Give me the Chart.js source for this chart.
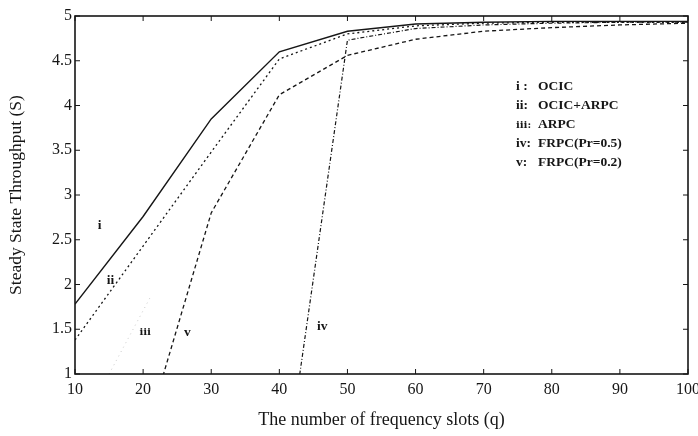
<!DOCTYPE html>
<html>
<head>
<meta charset="utf-8">
<script src="https://cdn.jsdelivr.net/npm/chart.js@4.4.1/dist/chart.umd.min.js"></script>
<style>
  html, body { margin: 0; padding: 0; background: #fff; }
  #wrap { width: 698px; height: 436px; }
</style>
</head>
<body>
<div id="wrap"><canvas id="throughputChart"></canvas></div>
<script>
// frequency slots q
const slots = [10, 20, 30, 40, 50, 60, 70, 80, 90, 100]

// steady state throughput S
const ocic      = [1.78, 2.76, 3.85, 4.60, 4.83, 4.91, 4.93, 4.94, 4.94, 4.94]
const ocicArpc  = [1.38, 2.43, 3.48, 4.52, 4.80, 4.89, 4.92, 4.93, 4.93, 4.93]
const frpc05    = [null, null, null, -0.6, 4.73, 4.86, 4.90, 4.92, 4.93, 4.93]
const frpc02    = [null, 0.23, 2.80, 4.12, 4.56, 4.74, 4.83, 4.87, 4.90, 4.92]
// ARPC curve is almost faded out in the copy, only a short piece shows
const arpcSlots = [15, 21]
const arpc      = [1.0, 1.85]

const yTicks = [1, 1.5, 2, 2.5, 3, 3.5, 4, 4.5, 5]
const xTicks = [10, 20, 30, 40, 50, 60, 70, 80, 90, 100]

const legendLines = [
  ["i :", "OCIC"],
  ["ii:", "OCIC+ARPC"],
  ["\u2172:", "ARPC"],
  ["iv:", "FRPC(Pr=0.5)"],
  ["v:", "FRPC(Pr=0.2)"]
]
// curve tags: label, q, S
const curveTags = [
  ["i", 13.6, 2.66],
  ["ii", 15.2, 2.04],
  ["\u2172", 20.3, 1.46],
  ["v", 26.5, 1.46],
  ["iv", 46.3, 1.53]
]

const ink = "#161616"
const serif = "'Liberation Serif', 'DejaVu Serif', serif"

function pts(xs, ys) {
  return xs.map((x, i) => ({x: x, y: ys[i]})).filter(p => p.y !== null)
}

function drawTag(ctx, text, x, y) {
  // the roman three is drawn smaller, the fallback glyph is big
  ctx.font = text.includes("\u2172") ? "bold 10px 'DejaVu Serif', serif" : "bold 13.5px " + serif
  ctx.fillText(text, x, y)
}

// frame, inward ticks and the text notes
const paperPlugin = {
  id: "paper",
  afterDraw(chart) {
    const ctx = chart.ctx
    const a = chart.chartArea
    const xs = chart.scales.x
    const ys = chart.scales.y
    ctx.save()
    ctx.strokeStyle = ink
    ctx.lineWidth = 1.6
    ctx.strokeRect(a.left, a.top, a.right - a.left, a.bottom - a.top)
    ctx.lineWidth = 1
    ctx.beginPath()
    xTicks.forEach(v => {
      const px = xs.getPixelForValue(v)
      ctx.moveTo(px, a.bottom); ctx.lineTo(px, a.bottom - 5)
      ctx.moveTo(px, a.top); ctx.lineTo(px, a.top + 5)
    })
    yTicks.forEach(v => {
      const py = ys.getPixelForValue(v)
      ctx.moveTo(a.left, py); ctx.lineTo(a.left + 5, py)
      ctx.moveTo(a.right, py); ctx.lineTo(a.right - 5, py)
    })
    ctx.stroke()

    ctx.fillStyle = ink
    ctx.textBaseline = "middle"
    ctx.textAlign = "left"
    legendLines.forEach((l, i) => {
      const y = 87 + i * 19
      drawTag(ctx, l[0], 516, y)
      ctx.font = "bold 13.5px " + serif
      ctx.fillText(l[1], 538, y)
    })
    ctx.textAlign = "center"
    curveTags.forEach(t => {
      drawTag(ctx, t[0], xs.getPixelForValue(t[1]), ys.getPixelForValue(t[2]))
    })
    ctx.restore()
  }
}

let config = {
  type: "line",
  data: {
    datasets: [
      { data: pts(slots, ocic), borderColor: ink, borderWidth: 1.4 },
      { data: pts(slots, ocicArpc), borderColor: ink, borderWidth: 1.3, borderDash: [2, 3] },
      { data: pts(arpcSlots, arpc), borderColor: "#c8c8c8", borderWidth: 1, borderDash: [1, 4] },
      { data: pts(slots, frpc05), borderColor: ink, borderWidth: 1.2, borderDash: [4, 2, 1, 2] },
      { data: pts(slots, frpc02), borderColor: ink, borderWidth: 1.3, borderDash: [4, 3] }
    ]
  },
  options: {
    responsive: true,
    maintainAspectRatio: false,
    animation: false,
    elements: { point: { radius: 0 }, line: { tension: 0 } },
    layout: { padding: { top: 16, right: 10, left: 0, bottom: 0 } },
    plugins: { legend: { display: false }, tooltip: { enabled: false } },
    scales: {
      x: {
        type: "linear", min: 10, max: 100,
        afterFit: s => { s.height = 62; s.paddingRight = 0 },
        afterBuildTicks: s => { s.ticks = xTicks.map(v => ({value: v})) },
        grid: { drawOnChartArea: false, drawTicks: false },
        border: { display: false },
        ticks: { color: ink, padding: 6, maxRotation: 0, font: { family: serif, size: 16 } },
        title: {
          display: true, text: "The number of frequency slots (q)", color: ink,
          padding: { top: 0, bottom: 5 }, font: { family: serif, size: 18 }
        }
      },
      y: {
        type: "linear", min: 1, max: 5,
        afterFit: s => { s.width = 75 },
        afterBuildTicks: s => { s.ticks = yTicks.map(v => ({value: v})) },
        grid: { drawOnChartArea: false, drawTicks: false },
        border: { display: false },
        ticks: {
          color: ink, padding: 3, font: { family: serif, size: 16 },
          callback: v => String(v)
        },
        title: {
          display: true, text: "Steady State Throughput (S)", color: ink,
          padding: { top: 6, bottom: 0 }, font: { family: serif, size: 17.5 }
        }
      }
    }
  },
  plugins: [paperPlugin]
}

let throughputChart = new Chart(document.querySelector("#throughputChart"), config)
</script>
</body>
</html>
